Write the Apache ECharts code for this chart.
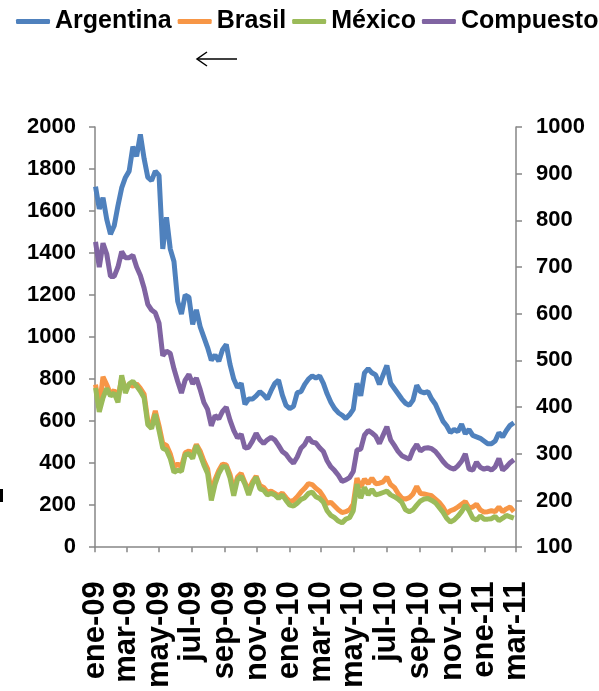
<!DOCTYPE html>
<html>
<head>
<meta charset="utf-8">
<script src="https://cdn.jsdelivr.net/npm/echarts@6/dist/echarts.min.js"></script>
<style>
html,body{margin:0;padding:0;background:#fff;}
#chart{width:599px;height:691px;}
</style>
</head>
<body>
<div id="chart"></div>
<script>
// ---- data (weekly observations starting 2009-01-02) ----
const firstDate = [2009, 0, 2];
const stepDays = 7;

const argentina = [1716,1610,1663,1560,1490,1530,1625,1710,1760,1790,
1906,1860,1965,1850,1760,1745,1790,1770,1420,1570,
1420,1360,1170,1110,1200,1190,1060,1130,1050,1000,
950,890,915,885,940,965,870,800,760,780,
680,705,705,720,740,725,705,745,780,795,
725,675,660,670,735,740,775,800,815,805,
815,780,730,690,660,640,628,612,630,656,
780,720,830,850,830,820,775,820,865,780,
755,730,705,685,675,700,770,740,735,740,
705,680,640,600,578,545,560,550,585,540,
560,532,525,518,505,492,492,505,545,525,
555,580,592];

const brasil = [448,400,465,448,428,436,418,462,440,448,
445,450,440,428,370,362,392,360,322,318,
300,272,278,272,302,306,300,320,306,285,
268,215,245,264,278,276,256,222,250,258,
238,222,240,252,232,228,218,220,215,210,
216,206,198,200,208,218,226,236,234,226,
220,208,194,196,188,180,174,176,180,192,
248,228,246,236,248,236,237,240,250,234,
228,215,205,203,206,214,230,215,214,212,
210,203,196,186,172,178,181,186,192,198,
184,186,192,180,175,176,178,176,186,176,
182,186,176];

const mexico = [441,390,420,440,424,430,410,468,430,450,
455,445,434,420,362,354,385,350,312,308,
290,260,265,262,298,300,290,318,298,276,
258,200,235,258,272,272,248,210,245,252,
235,212,235,250,225,222,212,215,212,204,
212,200,190,188,194,202,206,215,218,208,
204,196,178,168,163,156,152,160,163,178,
235,205,228,212,224,212,214,217,220,212,
208,203,196,180,176,180,190,199,203,204,
200,195,185,175,162,154,158,166,176,190,
178,162,158,167,160,160,161,166,157,162,
168,165,162];

const compuesto = [754,700,751,728,680,680,700,733,720,720,
725,700,682,655,620,608,602,580,510,520,
515,482,455,430,458,470,450,462,438,410,
395,360,382,375,391,400,372,350,334,342,
312,314,327,344,330,322,330,335,330,318,
305,299,288,280,293,312,320,335,325,323,
313,305,285,272,264,254,241,244,249,262,
308,310,340,350,345,338,322,340,358,330,
318,305,296,292,288,308,320,306,312,313,
311,305,295,284,275,270,267,274,284,300,
267,265,282,271,267,270,265,272,290,265,
272,281,287];

const seriesNames = ['Argentina', 'Brasil', 'México', 'Compuesto'];
const seriesColors = ['#4F81BD', '#F79646', '#9BBB59', '#8064A2'];

const tickDates = ['2009-01-01','2009-03-01','2009-05-01','2009-07-01','2009-09-01','2009-11-01',
'2010-01-01','2010-03-01','2010-05-01','2010-07-01','2010-09-01','2010-11-01',
'2011-01-01','2011-03-01'];
const tickLabels = ['ene-09','mar-09','may-09','jul-09','sep-09','nov-09',
'ene-10','mar-10','may-10','jul-10','sep-10','nov-10','ene-11','mar-11'];

// ---- build ----
function parseDay(s){ const p = s.split('-').map(Number); return new Date(p[0], p[1]-1, p[2]).getTime(); }
const tickTimes = tickDates.map(parseDay);
const dates = argentina.map((_, i) => new Date(firstDate[0], firstDate[1], firstDate[2] + i*stepDays).getTime());
const pair = arr => arr.map((v, i) => [dates[i], v]);

const labelFont = "'Liberation Sans',Arial,sans-serif";
const axisGray = '#868686';

const chart = echarts.init(document.getElementById('chart'), null, {renderer: 'canvas'});
const yLabel = {fontFamily: labelFont, fontWeight: 'bold', fontSize: 22, color: '#000', formatter: v => String(v)};

function lineSeries(name, data, color, yIdx){
  return {
    name, type: 'line', data, yAxisIndex: yIdx, showSymbol: false, symbol: 'none',
    lineStyle: {color, width: 5}, itemStyle: {color}, emphasis: {disabled: true}
  };
}

chart.setOption({
  animation: false,
  backgroundColor: '#fff',
  legend: {
    data: seriesNames,
    left: 16, top: 9, padding: 0,
    icon: 'roundRect',
    itemWidth: 34, itemHeight: 5,
    itemGap: 6,
    textStyle: {fontFamily: labelFont, fontWeight: 'bold', fontSize: 25, color: '#000'}
  },
  grid: {left: 95, right: 83, top: 127, bottom: 143, containLabel: false},
  xAxis: {
    type: 'value',
    min: tickTimes[0], max: tickTimes[tickTimes.length-1],
    splitLine: {show: false},
    axisLine: {lineStyle: {color: axisGray, width: 1.5}},
    axisTick: {show: true, length: 5, lineStyle: {color: axisGray, width: 1.5}, customValues: tickTimes},
    axisLabel: {
      customValues: tickTimes,
      rotate: 90, margin: 34,
      fontFamily: labelFont, fontWeight: 'bold', fontSize: 31, color: '#000',
      formatter: v => { const k = tickTimes.indexOf(v); return k >= 0 ? tickLabels[k] : ''; }
    }
  },
  yAxis: [
    {
      type: 'value', min: 0, max: 2000, interval: 200, position: 'left',
      splitLine: {show: false},
      axisLine: {show: true, lineStyle: {color: axisGray, width: 1.5}},
      axisTick: {show: true, length: 6, lineStyle: {color: axisGray, width: 1.5}},
      axisLabel: Object.assign({margin: 19}, yLabel)
    },
    {
      type: 'value', min: 100, max: 1000, interval: 100, position: 'right',
      splitLine: {show: false},
      axisLine: {show: true, lineStyle: {color: axisGray, width: 1.5}},
      axisTick: {show: true, length: 6, lineStyle: {color: axisGray, width: 1.5}},
      axisLabel: Object.assign({margin: 20}, yLabel)
    }
  ],
  series: [
    lineSeries(seriesNames[0], pair(argentina), seriesColors[0], 0),
    lineSeries(seriesNames[1], pair(brasil), seriesColors[1], 1),
    lineSeries(seriesNames[2], pair(mexico), seriesColors[2], 1),
    lineSeries(seriesNames[3], pair(compuesto), seriesColors[3], 1)
  ],
  graphic: [
    {type: 'polyline', shape: {points: [[237,59],[198,59]]}, style: {stroke: '#000', lineWidth: 1.5, fill: null}},
    {type: 'polyline', shape: {points: [[207,52],[197,59],[207,66]]}, style: {stroke: '#000', lineWidth: 1.5, fill: null}},
    {type: 'rect', shape: {x: 0, y: 489, width: 3, height: 13}, style: {fill: '#000'}}
  ]
});
</script>
</body>
</html>
